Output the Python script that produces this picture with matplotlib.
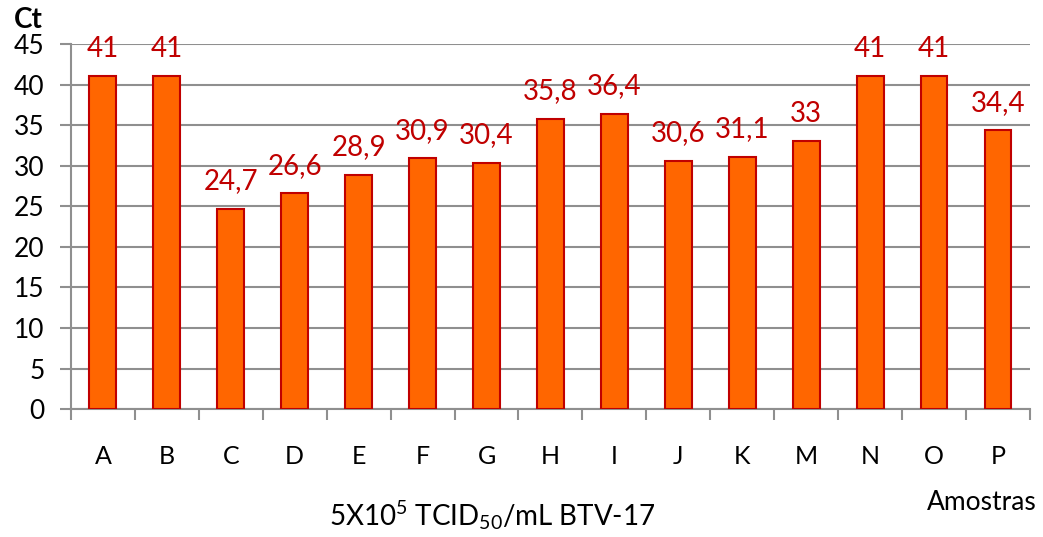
import matplotlib
matplotlib.use('Agg')
import matplotlib.pyplot as plt
import numpy as np

amostras = ['A', 'B', 'C', 'D', 'E', 'F', 'G', 'H', 'I', 'J', 'K', 'M', 'N', 'O', 'P']
ct = [41, 41, 24.7, 26.6, 28.9, 30.9, 30.4, 35.8, 36.4, 30.6, 31.1, 33, 41, 41, 34.4]
yticks = [0, 5, 10, 15, 20, 25, 30, 35, 40, 45]

plt.rcParams['font.family'] = ['Lato', 'DejaVu Sans']
plt.rcParams['mathtext.fontset'] = 'custom'
plt.rcParams['mathtext.rm'] = 'Lato'
plt.rcParams['mathtext.it'] = 'Lato'
plt.rcParams['mathtext.default'] = 'regular'

grid_c = '#8f8f8f'
fig = plt.figure(figsize=(10.43, 5.37), dpi=100)
ax = fig.add_axes([0.068, 0.238, 0.9195, 0.68])

x = np.arange(len(amostras))
ax.bar(x, ct, width=0.42, color='#FF6600', edgecolor='#C00000', linewidth=1.5, zorder=3)

for xi, v in zip(x, ct):
    lab = f'{v:g}'.replace('.', ',')
    ax.annotate(lab, (xi, v), xytext=(0, 14), textcoords='offset points',
                ha='center', va='baseline', color='#C00000', fontsize=20)

ax.set_xlim(-0.5, len(amostras) - 0.5)
ax.set_ylim(0, 45)
ax.set_yticks(yticks)
ax.tick_params(axis='y', labelsize=19, length=8, width=1.5, color=grid_c, pad=11)
ax.set_xticks(x)
ax.set_xticklabels(amostras)
ax.set_xticks(np.arange(len(amostras) + 1) - 0.5, minor=True)
ax.tick_params(axis='x', which='major', length=0, labelsize=18, pad=26)
ax.tick_params(axis='x', which='minor', length=8, width=1.5, color=grid_c)
ax.yaxis.grid(True, color=grid_c, linewidth=1.5, zorder=0)
ax.set_axisbelow(True)

for s in ['top', 'right']:
    ax.spines[s].set_visible(False)
for s in ['left', 'bottom']:
    ax.spines[s].set_color(grid_c)
    ax.spines[s].set_linewidth(1.5)

fig.text(0.013, 0.948, 'Ct', fontsize=20, fontweight='bold', ha='left', va='baseline')
fig.text(0.994, 0.05, 'Amostras', fontsize=19, ha='right', va='baseline')
fig.text(0.472, 0.022, '5X10$^{5}$ TCID$_{50}$/mL BTV-17', fontsize=20, ha='center', va='baseline')

fig.savefig('out.png', dpi=100)
